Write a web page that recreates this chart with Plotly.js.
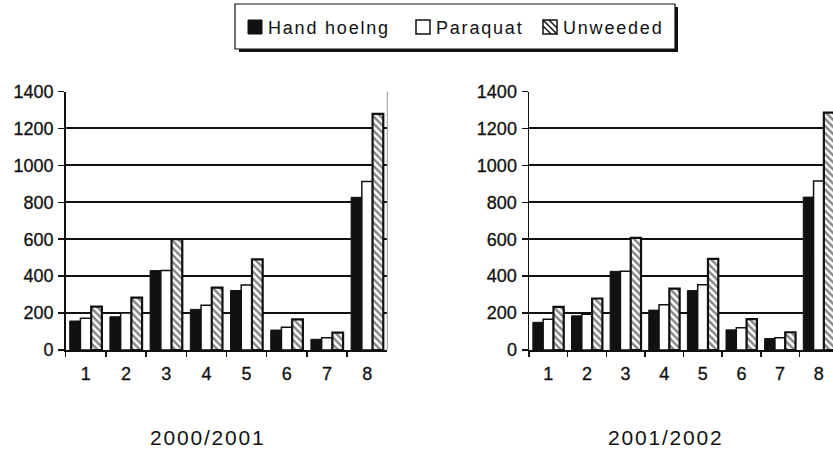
<!DOCTYPE html>
<html>
<head>
<meta charset="utf-8">
<script src="https://cdn.plot.ly/plotly-3.0.1.min.js"></script>
<style>
html,body{margin:0;padding:0;background:#fff;}
#chart{width:833px;height:450px;}
.annotation-text{letter-spacing:1.8px;}
.ytick text, .y2tick text, .xtick text, .x2tick text{stroke:#111;stroke-width:0.3px;}
</style>
</head>
<body>
<div id="chart"></div>
<script>
// ---- data ----
var categories = ["1","2","3","4","5","6","7","8"];
var seriesNames = ["Hand hoelng","Paraquat","Unweeded"];
var periodTitles = ["2000/2001","2001/2002"];
var yTicks = [0,200,400,600,800,1000,1200,1400];
// 2000/2001
var hand2001 = [157,180,430,220,322,108,58,827];
var paraquat2001 = [172,200,430,242,352,123,67,912];
var unweeded2001 = [235,284,600,338,491,166,94,1279];
// 2001/2002
var hand2002 = [150,185,426,216,322,109,62,828];
var paraquat2002 = [167,194,426,245,353,121,67,915];
var unweeded2002 = [234,279,607,332,493,167,96,1286];

var W = 833, H = 450;
function px(x){return x/W;}
function py(y){return 1 - y/H;}

var ink = '#111';
function traces(hand, para, unw, xa, ya){
  return [
    {type:'bar', x:categories, y:hand, name:seriesNames[0], xaxis:xa, yaxis:ya,
     marker:{color:ink, line:{color:ink, width:1}}, showlegend:false, hoverinfo:'skip'},
    {type:'bar', x:categories, y:para, name:seriesNames[1], xaxis:xa, yaxis:ya,
     marker:{color:'#fff', line:{color:ink, width:1.5}}, showlegend:false, hoverinfo:'skip'},
    {type:'bar', x:categories, y:unw, name:seriesNames[2], xaxis:xa, yaxis:ya,
     marker:{color:'#fff', line:{color:ink, width:2.2},
       pattern:{shape:'\\', fgcolor:ink, bgcolor:'#fff', size:5, solidity:0.5, fillmode:'overlay'}},
     showlegend:false, hoverinfo:'skip'}
  ];
}
var data = traces(hand2001, paraquat2001, unweeded2001, 'x', 'y')
  .concat(traces(hand2002, paraquat2002, unweeded2002, 'x2', 'y2'));

var tickFont = {family:'Liberation Sans, Arial, sans-serif', size:18, color:ink};
function xax(domain, range){
  return {domain:domain, type:'category', range:range, tickson:'boundaries',
    ticks:'outside', ticklen:5, tickwidth:1.5, tickcolor:ink,
    showline:true, linecolor:ink, linewidth:1.5, showgrid:false, zeroline:false,
    tickfont:tickFont, ticklabelstandoff:7, fixedrange:true};
}
function yax(anchor){
  return {domain:[py(350), py(91.5)], range:[0,1400], tickvals:yTicks,
    ticks:'outside', ticklen:6, tickwidth:1.5, tickcolor:ink,
    showline:true, linecolor:ink, linewidth:1.5, showgrid:true, gridcolor:ink, gridwidth:2,
    zeroline:false, tickfont:tickFont, ticklabelstandoff:1, anchor:anchor, fixedrange:true};
}

var legendFont = {family:'Liberation Sans, Arial, sans-serif', size:18, color:ink};
var shapes = [
  // legend shadow and box
  {type:'rect', xref:'paper', yref:'paper', x0:px(239), x1:px(678), y0:py(7), y1:py(52),
   fillcolor:ink, line:{width:0}},
  {type:'rect', xref:'paper', yref:'paper', x0:px(235), x1:px(675), y0:py(4), y1:py(49),
   fillcolor:'#fff', line:{color:ink, width:1.2}},
  // swatches
  {type:'rect', xref:'paper', yref:'paper', x0:px(248), x1:px(262), y0:py(20), y1:py(34),
   fillcolor:ink, line:{color:ink, width:1}},
  {type:'rect', xref:'paper', yref:'paper', x0:px(416), x1:px(430), y0:py(20), y1:py(34),
   fillcolor:'#fff', line:{color:ink, width:1.5}},
  {type:'rect', xref:'paper', yref:'paper', x0:px(543), x1:px(557), y0:py(20), y1:py(34),
   fillcolor:'#fff', line:{color:ink, width:1.5}},
  {type:'line', xref:'paper', yref:'paper', x0:px(543), x1:px(557), y0:py(20), y1:py(34), line:{color:ink, width:1.5}},
  {type:'line', xref:'paper', yref:'paper', x0:px(543), x1:px(551), y0:py(26), y1:py(34), line:{color:ink, width:1.5}},
  {type:'line', xref:'paper', yref:'paper', x0:px(549), x1:px(557), y0:py(20), y1:py(28), line:{color:ink, width:1.5}},
  // right frame line (light)
  {type:'line', xref:'x domain', yref:'y domain', x0:1, x1:1, y0:0, y1:1, line:{color:'#999', width:1}}
];

var annotations = [
  {xref:'paper', yref:'paper', x:px(266), y:py(27.5), xanchor:'left', yanchor:'middle', showarrow:false,
   text:seriesNames[0], font:legendFont},
  {xref:'paper', yref:'paper', x:px(434), y:py(27.5), xanchor:'left', yanchor:'middle', showarrow:false,
   text:seriesNames[1], font:legendFont},
  {xref:'paper', yref:'paper', x:px(561), y:py(27.5), xanchor:'left', yanchor:'middle', showarrow:false,
   text:seriesNames[2], font:legendFont},
  {xref:'paper', yref:'paper', x:px(207), y:py(437), xanchor:'center', yanchor:'middle', showarrow:false,
   text:periodTitles[0], font:{family:'Liberation Sans, Arial, sans-serif', size:21, color:ink}},
  {xref:'paper', yref:'paper', x:px(665), y:py(437), xanchor:'center', yanchor:'middle', showarrow:false,
   text:periodTitles[1], font:{family:'Liberation Sans, Arial, sans-serif', size:21, color:ink}}
];

var layout = {
  width:W, height:H, margin:{l:0,r:0,t:0,b:0},
  paper_bgcolor:'#fff', plot_bgcolor:'#fff',
  barmode:'group', bargap:0.2, bargroupgap:0,
  showlegend:false,
  xaxis: xax([px(65.7), px(387.3)], [-0.5, 7.5]),
  yaxis: yax('x'),
  xaxis2: xax([px(529), 1], [-0.5, 7.37]),
  yaxis2: yax('x2'),
  shapes: shapes,
  annotations: annotations
};
layout.xaxis2.anchor = 'y2';
layout.xaxis.anchor = 'y';

Plotly.newPlot('chart', data, layout, {staticPlot:true, displayModeBar:false});
</script>
</body>
</html>
